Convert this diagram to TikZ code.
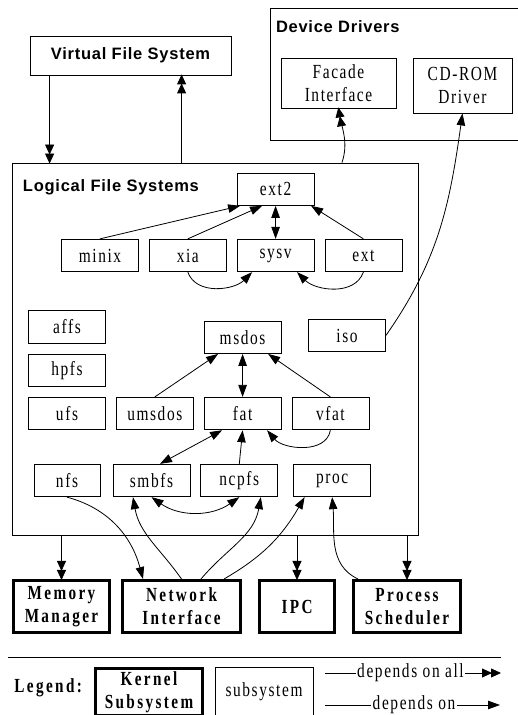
\documentclass[tikz,border=0pt]{standalone}
\usepackage{fontspec}
\setmainfont{Liberation Serif}
\newfontfamily\headfont[LetterSpace=4.5]{Liberation Sans}
\newfontfamily\boxfont[LetterSpace=8,FakeStretch=0.77]{Liberation Serif}
\newfontfamily\kernfont[LetterSpace=12,FakeStretch=0.76]{Liberation Serif}
\usepackage{tikz}
\usetikzlibrary{arrows.meta,positioning}

\begin{document}
\begin{tikzpicture}[x=1pt, y=1pt, line width=0.8pt]

\tikzstyle{frame} = [draw, rectangle, inner sep=0pt]
\tikzstyle{fs} = [draw, rectangle, minimum width=77pt, minimum height=32.5pt, inner sep=0pt, align=center, font=\boxfont\fontsize{20}{23}\selectfont]
\tikzstyle{kernel} = [draw, rectangle, line width=3pt, minimum height=52pt, inner sep=0pt, align=center, font=\kernfont\bfseries\fontsize{20}{23}\selectfont]
\tikzstyle{title} = [inner sep=0pt, font=\headfont\bfseries\fontsize{16.5}{20}\selectfont]
\tikzstyle{dep} = [-{Triangle[length=12pt,width=8.5pt]}]
\tikzstyle{depboth} = [{Triangle[length=12pt,width=8.5pt]}-{Triangle[length=12pt,width=8.5pt]}]
\tikzstyle{depall} = [-{Triangle[length=10pt,width=9pt,sep=-1pt]Triangle[length=10pt,width=9pt,sep=-1pt]}]

\clip (0,0) rectangle (518,715);

% top level
\node [frame, title, minimum width=201pt, minimum height=39pt] (vfs) at (130.5,659.5) {Virtual File System};
\node [frame, minimum width=255pt, minimum height=132pt] (drivers) at (397.5,641) {};
\node [title, anchor=base west] (drivers-title) at ([xshift=6pt, yshift=-25pt]drivers.north west) {Device Drivers};
\node [fs, minimum width=115pt, minimum height=50pt] (facade) at (338.5,632) {Facade\\Interface};
\node [fs, minimum width=99pt, minimum height=55pt] (cdrom) at (462.5,629.5) {CD-ROM\\Driver};

% logical file systems
\node [frame, minimum width=406pt, minimum height=372pt] (lfs) at (215,366) {};
\node [title, anchor=base west] (lfs-title) at ([xshift=11pt, yshift=-28.5pt]lfs.north west) {Logical File Systems};

\node [fs] (minix) at (100,459.5) {minix};
\node [fs, right = 10pt of minix] (xia) {xia};
\node [fs, right = 10pt of xia] (sysv) {sysv};
\node [fs, right = 10pt of sysv] (ext) {ext};
\node [fs, above = 33pt of sysv] (ext2) {ext2};

\node [fs] (affs) at (67,388) {affs};
\node [fs, below = 10pt of affs] (hpfs) {hpfs};
\node [fs, below = 10pt of hpfs] (ufs) {ufs};
\node [fs, right = 10pt of ufs] (umsdos) {umsdos};
\node [fs, right = 10pt of umsdos] (fat) {fat};
\node [fs, right = 10pt of fat] (vfat) {vfat};
\node [fs, above = 43pt of fat] (msdos) {msdos};
\node [fs] (iso) at (347,379.5) {iso};

\node [fs, minimum width=66pt] (nfs) at (67,234.5) {nfs};
\node [fs] (smbfs) at (151.5,234.5) {smbfs};
\node [fs, right = 10pt of smbfs] (ncpfs) {ncpfs};
\node [fs, right = 15pt of ncpfs] (proc) {proc};

% kernel subsystems
\node [kernel, minimum width=96pt] (mem) at (61.5,108.5) {Memory\\Manager};
\node [kernel, minimum width=118pt, right = 10pt of mem] (net) {Network\\Interface};
\node [kernel, minimum width=75pt, right = 16pt of net] (ipc) {IPC};
\node [kernel, minimum width=107pt, right = 16pt of ipc] (sched) {Process\\Scheduler};

% legend
\draw (8,58) -- (501,58);
\node [anchor=base west, inner sep=0pt, font=\kernfont\bfseries\fontsize{20}{23}\selectfont] (legend) at (14,23) {Legend:};
\node [kernel, minimum width=107pt, minimum height=47pt] (leg-kernel) at (149,23) {Kernel\\Subsystem};
\node [fs, minimum width=98pt, minimum height=50pt] (leg-sub) at (264,23) {subsystem};
\node [inner sep=1pt, font=\boxfont\fontsize{20}{23}\selectfont] (leg-all) at (410.5,42) {depends on all};
\node [inner sep=1pt, font=\boxfont\fontsize{20}{23}\selectfont] (leg-dep) at (414,10) {depends on};
\coordinate (all-start) at (325,42);
\coordinate (all-end) at (500,42);
\coordinate (dep-start) at (325,10);
\coordinate (dep-end) at (500,10);
\draw (all-start) -- (leg-all);
\draw [depall] (leg-all) -- (all-end);
\draw (dep-start) -- (leg-dep);
\draw [dep] (leg-dep) -- (dep-end);

% vfs, drivers
\draw [depall] ([xshift=20pt]vfs.south west) -- ([xshift=38pt]lfs.north west);
\draw [depall] ([xshift=170pt]lfs.north west) -- ([xshift=152pt]vfs.south west);
\draw [depall] ([xshift=127pt]lfs.north) to[out=72, in=-80] (facade.south);
\draw [dep] (iso.east) to[out=55, in=-98] (cdrom.south);

% ext2 family
\draw [dep] (minix.north) -- ([xshift=-35.5pt]ext2.south);
\draw [dep] (xia.north) -- ([xshift=-13.5pt]ext2.south);
\draw [depboth] (sysv.north) -- (ext2.south);
\draw [dep] (ext.north) -- ([xshift=35.5pt]ext2.south);
\draw [dep] (xia.south) to[out=-70, in=-135] ([xshift=-23.5pt]sysv.south);
\draw [dep] (ext.south) to[out=-110, in=-45] ([xshift=21.5pt]sysv.south);

% msdos family
\draw [dep] (umsdos.north) -- ([xshift=-24.5pt]msdos.south);
\draw [depboth] (fat.north) -- (msdos.south);
\draw [dep] (vfat.north) -- ([xshift=25.5pt]msdos.south);
\draw [depboth] ([xshift=-20.5pt]fat.south) -- ([xshift=8.5pt]smbfs.north);
\draw [dep] (ncpfs.north) -- (fat.south);
\draw [dep] (vfat.south) to[out=-100, in=-50] ([xshift=24.5pt]fat.south);
\draw [depboth] (smbfs.south) to[bend right=35] (ncpfs.south);

% kernel links
\draw [depall] (mem.north |- lfs.south) -- (mem.north);
\draw [depall] (ipc.north |- lfs.south) -- (ipc.north);
\draw [depall] (sched.north |- lfs.south) -- (sched.north);
\draw [dep] (nfs.south) to[out=-15, in=105] ([xshift=-38.5pt]net.north);
\draw [dep] (net.north) to[out=125, in=-80] ([xshift=-18.5pt]smbfs.south);
\draw [dep] ([xshift=19.5pt]net.north) to[out=50, in=-100] ([xshift=21.5pt]ncpfs.south);
\draw [dep] ([xshift=42.5pt]net.north) to[out=30, in=-120] ([xshift=-27.5pt]proc.south);
\draw [dep] ([xshift=-49pt]sched.north) to[out=155, in=-85] (proc.south);
\end{tikzpicture}
\end{document}
